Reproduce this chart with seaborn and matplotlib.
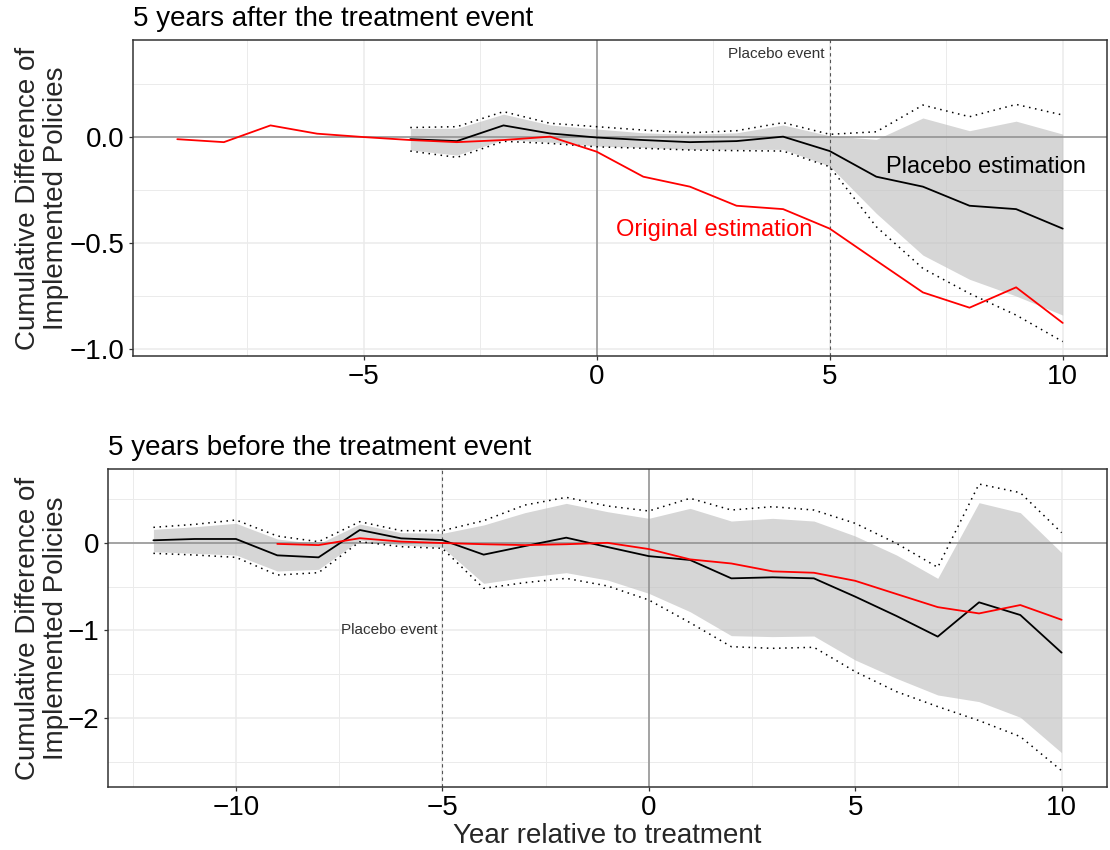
import matplotlib
matplotlib.use("Agg")
import matplotlib.pyplot as plt
import numpy as np
import pandas as pd
import seaborn as sns

# ---------------- data ----------------
# Original estimation (same series in both panels)
years_orig = list(range(-9, 11))
orig_est = [-0.010, -0.024, 0.055, 0.016, 0.000, -0.014, -0.024, -0.014, 0.002, -0.069,
            -0.187, -0.234, -0.324, -0.340, -0.432, -0.583, -0.733, -0.805, -0.709, -0.877]

# Top panel: placebo 5 years after the treatment event
years_after = list(range(-4, 11))
plc_after = [-0.010, -0.019, 0.055, 0.017, -0.002, -0.014, -0.024, -0.019, 0.002, -0.066,
             -0.187, -0.234, -0.324, -0.340, -0.432]
rib_hi_after = [0.041, 0.041, 0.108, 0.057, 0.038, 0.020, 0.013, 0.020, 0.057, 0.006,
                -0.011, 0.090, 0.030, 0.075, 0.014]
rib_lo_after = [-0.061, -0.085, -0.012, -0.024, -0.042, -0.049, -0.058, -0.058, -0.058, -0.137,
                -0.360, -0.557, -0.671, -0.750, -0.840]
ci_hi_after = [0.045, 0.049, 0.120, 0.065, 0.049, 0.033, 0.020, 0.030, 0.068, 0.013,
               0.025, 0.151, 0.096, 0.154, 0.104]
ci_lo_after = [-0.066, -0.096, -0.020, -0.030, -0.046, -0.053, -0.061, -0.064, -0.066, -0.140,
               -0.423, -0.620, -0.738, -0.840, -0.965]

# Bottom panel: placebo 5 years before the treatment event
years_before = list(range(-12, 11))
plc_before = [0.031, 0.046, 0.046, -0.141, -0.164, 0.149, 0.053, 0.034, -0.133, -0.035,
              0.061, -0.046, -0.150, -0.194, -0.404, -0.392, -0.404, -0.613, -0.834, -1.070,
              -0.678, -0.823, -1.253]
rib_hi_before = [0.156, 0.186, 0.225, 0.046, -0.010, 0.217, 0.118, 0.110, 0.206, 0.347,
                 0.453, 0.358, 0.282, 0.396, 0.251, 0.282, 0.251, 0.080, -0.137, -0.404,
                 0.461, 0.347, -0.110]
rib_lo_before = [-0.099, -0.118, -0.137, -0.320, -0.301, 0.034, -0.023, -0.050, -0.461, -0.392,
                 -0.339, -0.423, -0.575, -0.785, -1.059, -1.070, -1.063, -1.337, -1.547, -1.737,
                 -1.813, -1.992, -2.397]
ci_hi_before = [0.179, 0.213, 0.263, 0.080, 0.015, 0.244, 0.141, 0.141, 0.255, 0.434,
                0.522, 0.423, 0.366, 0.511, 0.377, 0.415, 0.377, 0.225, -0.004, -0.278,
                0.674, 0.575, 0.118]
ci_lo_before = [-0.118, -0.137, -0.164, -0.366, -0.339, 0.015, -0.042, -0.061, -0.518, -0.453,
                -0.404, -0.491, -0.651, -0.911, -1.185, -1.204, -1.192, -1.470, -1.699, -1.870,
                -2.030, -2.213, -2.602]

titles = ["5 years after the treatment event", "5 years before the treatment event"]
ylabel = "Cumulative Difference of\nImplemented Policies"
xlabel = "Year relative to treatment"
event_label = "Placebo event"

# ---------------- style ----------------
sns.set_theme(style="white")
plt.rcParams["font.family"] = ["Liberation Sans", "DejaVu Sans"]

W, H = 1110, 850
fig = plt.figure(figsize=(W / 100, H / 100), dpi=100)

def px_axes(left, top, right, bottom):
    return fig.add_axes([left / W, 1 - bottom / H, (right - left) / W, (bottom - top) / H])

ax_top = px_axes(133, 40, 1107, 356)
ax_bot = px_axes(108, 469, 1107, 787)

GRID = "#EBEBEB"
RIB = "#C0C0C0"
REFC = "#8F8F8F"

def panel(ax, years, est, rlo, rhi, clo, chi, event_x, event_y, xlim, ylim,
          xmaj, xmin, ymaj, ymin, ylabels, title):
    ax.set_facecolor("white")
    ax.set_xlim(*xlim)
    ax.set_ylim(*ylim)
    ax.set_xticks(xmaj)
    ax.set_xticklabels([str(v).replace("-", "\u2212") for v in xmaj])
    ax.set_xticks(xmin, minor=True)
    ax.set_yticks(ymaj)
    ax.set_yticklabels(ylabels)
    ax.set_yticks(ymin, minor=True)
    ax.grid(which="major", color=GRID, lw=1.1, zorder=0)
    ax.grid(which="minor", color=GRID, lw=0.7, zorder=0)
    ax.set_axisbelow(True)
    ax.tick_params(which="major", length=3, width=0.9, color="#333333",
                   labelsize=20, labelcolor="black", pad=3, bottom=True, left=True)
    ax.tick_params(which="minor", length=0)
    for s in ax.spines.values():
        s.set_color("#333333")
        s.set_linewidth(1.1)

    ax.fill_between(years, rlo, rhi, color=RIB, alpha=0.65, lw=0, zorder=1)
    ax.axhline(0, color=REFC, lw=1.1, zorder=2)
    ax.axvline(0, color=REFC, lw=1.1, zorder=2)
    ax.axvline(event_x, color="#555555", lw=0.8, ls=(0, (3, 3)), zorder=2)

    dfp = pd.DataFrame({"year": years, "est": est, "lo": clo, "hi": chi})
    sns.lineplot(data=dfp, x="year", y="lo", ax=ax, color="black", lw=1.1,
                 linestyle=(0, (1, 3)), estimator=None, zorder=3)
    sns.lineplot(data=dfp, x="year", y="hi", ax=ax, color="black", lw=1.1,
                 linestyle=(0, (1, 3)), estimator=None, zorder=3)
    sns.lineplot(data=dfp, x="year", y="est", ax=ax, color="black", lw=1.3,
                 estimator=None, zorder=4)
    dfo = pd.DataFrame({"year": years_orig, "est": orig_est})
    sns.lineplot(data=dfo, x="year", y="est", ax=ax, color="#FF0000", lw=1.3,
                 estimator=None, zorder=5)

    ax.annotate(event_label, xy=(event_x, event_y), xytext=(-5, 0),
                textcoords="offset pixels", ha="right", va="center",
                fontsize=11, color="#333333")
    ax.set_xlabel("")
    ax.set_ylabel("")
    ax.set_title(title, loc="left", fontsize=20, pad=10, color="black")

panel(ax_top, years_after, plc_after, rib_lo_after, rib_hi_after, ci_lo_after, ci_hi_after,
      5, 0.39, (-9.95, 10.95), (-1.033, 0.458),
      [-5, 0, 5, 10], [-7.5, -2.5, 2.5, 7.5],
      [-1.0, -0.5, 0.0], [-0.75, -0.25, 0.25],
      ["\u22121.0", "\u22120.5", "0.0"], titles[0])

panel(ax_bot, years_before, plc_before, rib_lo_before, rib_hi_before, ci_lo_before, ci_hi_before,
      -5, -1.0, (-13.1, 11.1), (-2.789, 0.846),
      [-10, -5, 0, 5, 10], [-12.5, -7.5, -2.5, 2.5, 7.5],
      [-2, -1, 0], [-2.5, -1.5, -0.5, 0.5],
      ["\u22122", "\u22121", "0"], titles[1])

ax_top.text(8.35, -0.14, "Placebo estimation", ha="center", va="center",
            fontsize=17, color="black", zorder=6)
ax_top.text(2.52, -0.44, "Original estimation", ha="center", va="center",
            fontsize=17, color="#FF0000", zorder=6)

# y labels (same horizontal position in both panels)
fig.text(42.5 / W, 1 - 198 / H, ylabel, rotation=90, ha="center", va="center",
         fontsize=20, linespacing=1.1)
fig.text(42.5 / W, 1 - 628 / H, ylabel, rotation=90, ha="center", va="center",
         fontsize=20, linespacing=1.1)
fig.text((108 + 1107) / 2 / W, 1 - 843 / H, xlabel, ha="center", va="baseline",
         fontsize=20)

fig.savefig("out.png", dpi=100)
